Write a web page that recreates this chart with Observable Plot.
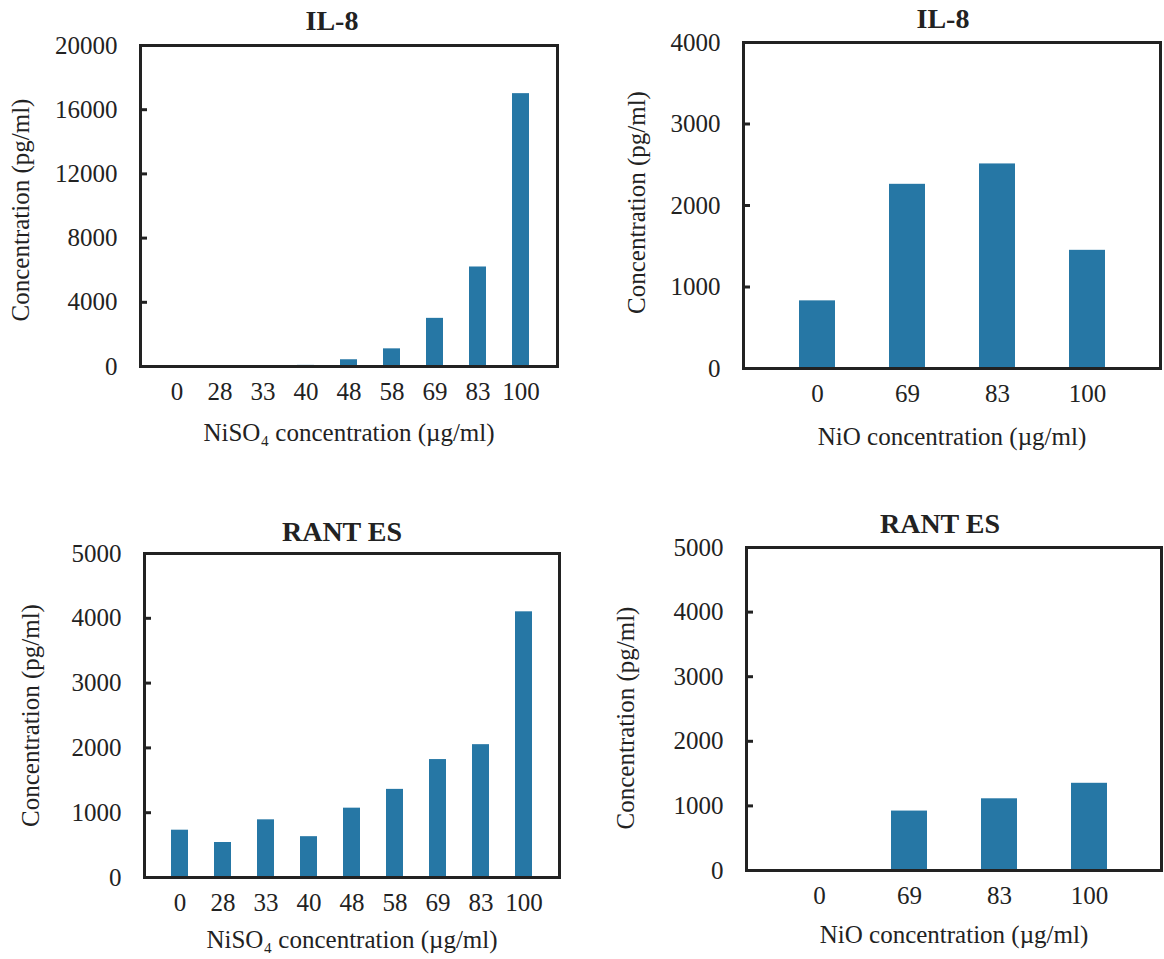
<!DOCTYPE html>
<html>
<head>
<meta charset="utf-8">
<script src="https://cdn.jsdelivr.net/npm/d3@7"></script>
<script src="https://cdn.jsdelivr.net/npm/@observablehq/plot@0.6"></script>
<style>
  html, body { margin: 0; padding: 0; background: #fff; }
  #c { position: relative; width: 1164px; height: 959px; background: #fff; overflow: hidden; }
  .panel { position: absolute; }
</style>
</head>
<body>
<div id="c"></div>
<script>
// ---- Data ----
const niso4Doses = ["0", "28", "33", "40", "48", "58", "69", "83", "100"];
const nioDoses = ["0", "69", "83", "100"];

const il8NiSO4Values = [60, 40, 60, 70, 420, 1100, 3000, 6200, 17000];
const il8NiOValues = [830, 2260, 2510, 1450];
const rantesNiSO4Values = [730, 540, 890, 630, 1070, 1360, 1820, 2050, 4100];
const rantesNiOValues = [0, 920, 1110, 1350];

const il8NiSO4Ticks = [0, 4000, 8000, 12000, 16000, 20000];
const il8NiOTicks = [0, 1000, 2000, 3000, 4000];
const rantesTicks = [0, 1000, 2000, 3000, 4000, 5000];

const titles = ["IL-8", "IL-8", "RANT ES", "RANT ES"];
const yTitle = "Concentration (pg/ml)";
const niso4Title = "NiSO\u2084 concentration (\u00b5g/ml)";
const nioTitle = "NiO concentration (\u00b5g/ml)";

// ---- Layout ----
const barColor = "#2677a5";
const ink = "#222";
const font = "'Liberation Serif', 'Times New Roman', serif";
const tickLen = 7;

const panels = [
  {doses: niso4Doses, values: il8NiSO4Values, ticks: il8NiSO4Ticks, max: 20000, title: titles[0], xTitle: niso4Title,
   left: 0, top: 0, width: 580, height: 470, mL: 140, mT: 45, mR: 23, mB: 104,
   tdx: -17, tdy: -24, xdy: 66, ydx: -120, ydy: 4},
  {doses: nioDoses, values: il8NiOValues, ticks: il8NiOTicks, max: 4000, title: titles[1], xTitle: nioTitle,
   left: 582, top: 0, width: 582, height: 470, mL: 161, mT: 42, mR: 4, mB: 102,
   tdx: -9, tdy: -23, xdy: 68, ydx: -107, ydy: -3},
  {doses: niso4Doses, values: rantesNiSO4Values, ticks: rantesTicks, max: 5000, title: titles[2], xTitle: niso4Title,
   left: 0, top: 480, width: 580, height: 479, mL: 144, mT: 73, mR: 21, mB: 82,
   tdx: -10, tdy: -21, xdy: 62, ydx: -114, ydy: 0},
  {doses: nioDoses, values: rantesNiOValues, ticks: rantesTicks, max: 5000, title: titles[3], xTitle: nioTitle,
   left: 582, top: 480, width: 582, height: 479, mL: 164, mT: 67, mR: 3, mB: 89,
   tdx: -14, tdy: -23, xdy: 64, ydx: -121, ydy: 9}
];

const container = document.getElementById("c");

for (const p of panels) {
  const data = p.doses.map((d, i) => ({dose: d, value: p.values[i]}));
  const frameWidth = p.width - p.mL - p.mR;
  const chart = Plot.plot({
    width: p.width,
    height: p.height,
    marginLeft: p.mL,
    marginTop: p.mT,
    marginRight: p.mR,
    marginBottom: p.mB,
    style: {fontFamily: font, fontSize: "25px", color: ink, background: "white", overflow: "visible"},
    x: {domain: p.doses, padding: 0.6, label: null},
    y: {domain: [0, p.max], label: null},
    marks: [
      Plot.barY(data, {x: "dose", y: "value", fill: barColor}),
      Plot.axisX({tickSize: 0, tickPadding: 16, label: null, fontSize: 25}),
      Plot.axisY({ticks: p.ticks, tickSize: 0, tickPadding: 23, tickFormat: d => String(d), label: null, fontSize: 25}),
      Plot.tickY(p.ticks, {y: d => d, stroke: ink, strokeWidth: 3, insetRight: frameWidth - tickLen}),
      Plot.frame({stroke: ink, strokeWidth: 3}),
      Plot.text([p.title], {frameAnchor: "top", lineAnchor: "middle", textAnchor: "middle", dx: p.tdx, dy: p.tdy, fontWeight: "bold", fontSize: 28, fill: ink}),
      Plot.text([p.xTitle], {frameAnchor: "bottom", lineAnchor: "middle", textAnchor: "middle", dy: p.xdy, fontSize: 25, fill: ink}),
      Plot.text([yTitle], {frameAnchor: "left", lineAnchor: "middle", textAnchor: "middle", rotate: -90, dx: p.ydx, dy: p.ydy, fontSize: 25, fill: ink})
    ]
  });
  const div = document.createElement("div");
  div.className = "panel";
  div.style.left = p.left + "px";
  div.style.top = p.top + "px";
  div.appendChild(chart);
  container.appendChild(div);
}
</script>
</body>
</html>
